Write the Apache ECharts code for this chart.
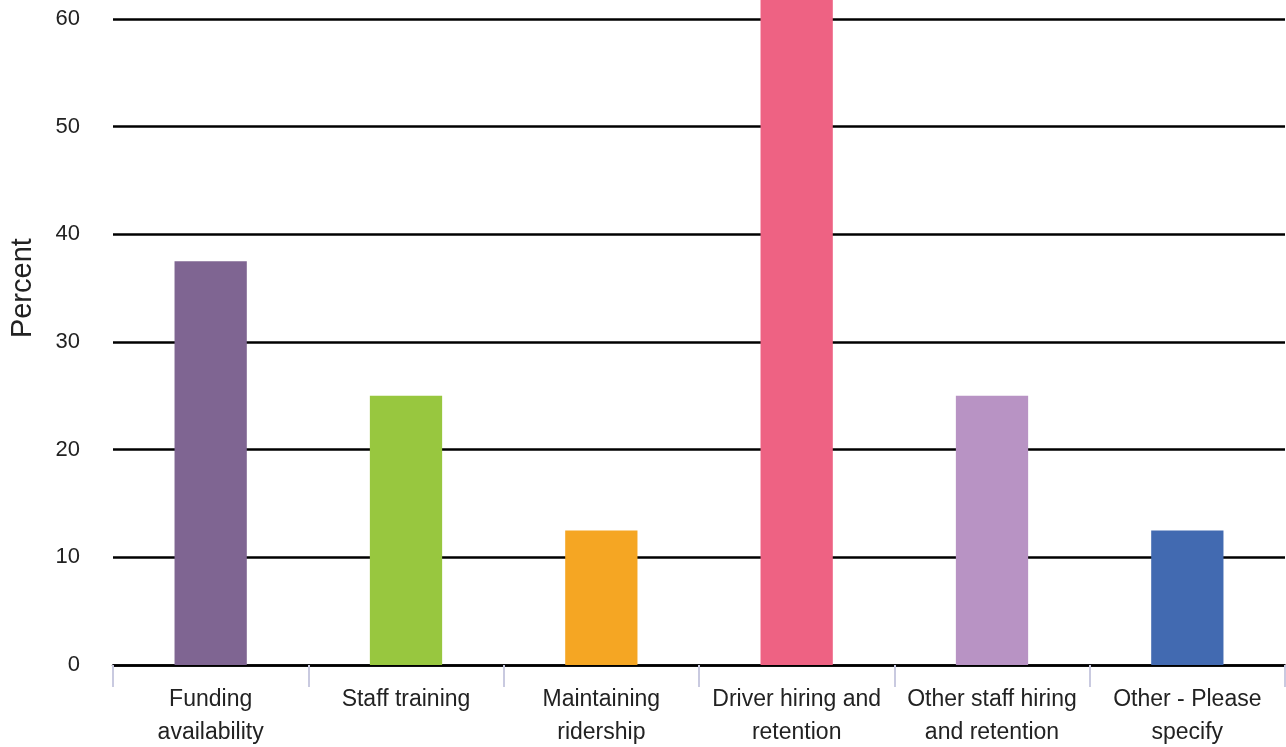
<!DOCTYPE html>
<html>
<head>
<meta charset="utf-8">
<script src="https://cdn.jsdelivr.net/npm/echarts@6/dist/echarts.min.js"></script>
<style>
  html, body { margin: 0; padding: 0; background: #fff; }
  #chart { width: 1286px; height: 747px; }
</style>
</head>
<body>
<div id="chart"></div>
<script>
// Challenges reported, share of respondents
const categories = [
  'Funding\navailability',
  'Staff training',
  'Maintaining\nridership',
  'Driver hiring and\nretention',
  'Other staff hiring\nand retention',
  'Other - Please\nspecify'
];
const percentValues = [37.5, 25, 12.5, 62.5, 25, 12.5];
const barColors = ['#7f6592', '#98c73f', '#f5a623', '#ee6283', '#b893c4', '#426ab1'];

const FONT = 'Liberation Sans, Arial, sans-serif';

const chart = echarts.init(document.getElementById('chart'));
chart.setOption({
  animation: false,
  backgroundColor: '#fff',
  grid: { left: 113, right: 1, top: -88.7, bottom: 82, outerBoundsMode: 'none', containLabel: false },
  xAxis: {
    type: 'category',
    data: categories,
    axisLine: { show: true, lineStyle: { color: '#000', width: 2.5 } },
    axisTick: { show: true, length: 22, lineStyle: { color: '#c9cae0', width: 2 } },
    axisLabel: {
      interval: 0,
      margin: 18,
      fontFamily: FONT,
      fontSize: 23,
      lineHeight: 33,
      color: '#222'
    }
  },
  yAxis: {
    type: 'value',
    min: 0,
    max: 70,
    interval: 10,
    name: 'Percent',
    nameLocation: 'middle',
    nameRotate: 90,
    nameGap: 76,
    nameTextStyle: { fontFamily: FONT, fontSize: 29, color: '#222' },
    axisLine: { show: false },
    axisTick: { show: false },
    axisLabel: {
      margin: 33,
      fontFamily: FONT,
      fontSize: 22,
      color: '#222'
    },
    splitLine: { show: true, lineStyle: { color: '#000', width: 2.5 } }
  },
  series: [{
    type: 'bar',
    data: percentValues.map((v, i) => ({ value: v, itemStyle: { color: barColors[i] } })),
    barWidth: '37%'
  }]
});
</script>
</body>
</html>
